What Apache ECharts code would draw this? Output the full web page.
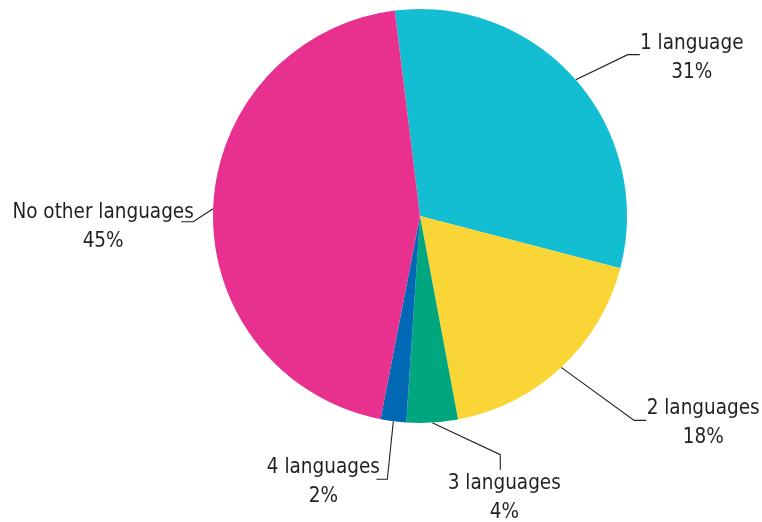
<!DOCTYPE html>
<html>
<head>
<meta charset="utf-8">
<script src="https://cdn.jsdelivr.net/npm/echarts@6/dist/echarts.min.js"></script>
<style>
  html, body { margin: 0; padding: 0; background: #ffffff; }
  #chart { width: 762px; height: 522px; }
</style>
</head>
<body>
<div id="chart"></div>
<script>
// Number of other languages spoken (share of respondents, %)
const categories = ['1 language', '2 languages', '3 languages', '4 languages', 'No other languages'];
const shares = [31, 18, 4, 2, 45];
const sliceColors = ['#14bed2', '#f9d536', '#00a67e', '#0068b4', '#e8318f'];

// Label placement, relative to the point where each leader line leaves the slice:
// [label centre offset, bend offset, line end offset]
const labelGuides = [
  { text: [116, -21], bend: [52, -25], end: [64, -25] },
  { text: [142, 56], bend: [73, 53], end: [85, 53] },
  { text: [72, 76], bend: [68, 32], end: [68, 47] },
  { text: [-70, 61], bend: [-6, 58], end: [-17, 58] },
  { text: [-110, 18], bend: [-20, 13], end: [-32, 13] }
];

const chart = echarts.init(document.getElementById('chart'));

chart.setOption({
  animation: false,
  series: [{
    type: 'pie',
    center: [420, 216],
    radius: [0, 207],
    startAngle: 97,
    clockwise: true,
    avoidLabelOverlap: false,
    data: categories.map((name, i) => ({
      name: name,
      value: shares[i],
      itemStyle: { color: sliceColors[i] }
    })),
    itemStyle: { borderWidth: 0 },
    label: {
      show: true,
      position: 'outside',
      formatter: '{b}\n{c}%',
      fontFamily: '"DejaVu Sans Condensed", "Liberation Sans Narrow", "Liberation Sans", sans-serif',
      fontSize: 20.5,
      lineHeight: 29,
      color: '#231f20',
      align: 'center'
    },
    labelLine: {
      show: true,
      length: 20,
      length2: 10,
      lineStyle: { color: '#231f20', width: 1.1 }
    },
    emphasis: { disabled: true },
    labelLayout: function (params) {
      const g = labelGuides[params.dataIndex];
      const p0 = (params.labelLinePoints && params.labelLinePoints[0]) ||
        [params.labelRect.x, params.labelRect.y];
      return {
        x: p0[0] + g.text[0],
        y: p0[1] + g.text[1],
        align: 'center',
        verticalAlign: 'middle',
        labelLinePoints: [
          [p0[0], p0[1]],
          [p0[0] + g.bend[0], p0[1] + g.bend[1]],
          [p0[0] + g.end[0], p0[1] + g.end[1]]
        ]
      };
    }
  }]
});
</script>
</body>
</html>
